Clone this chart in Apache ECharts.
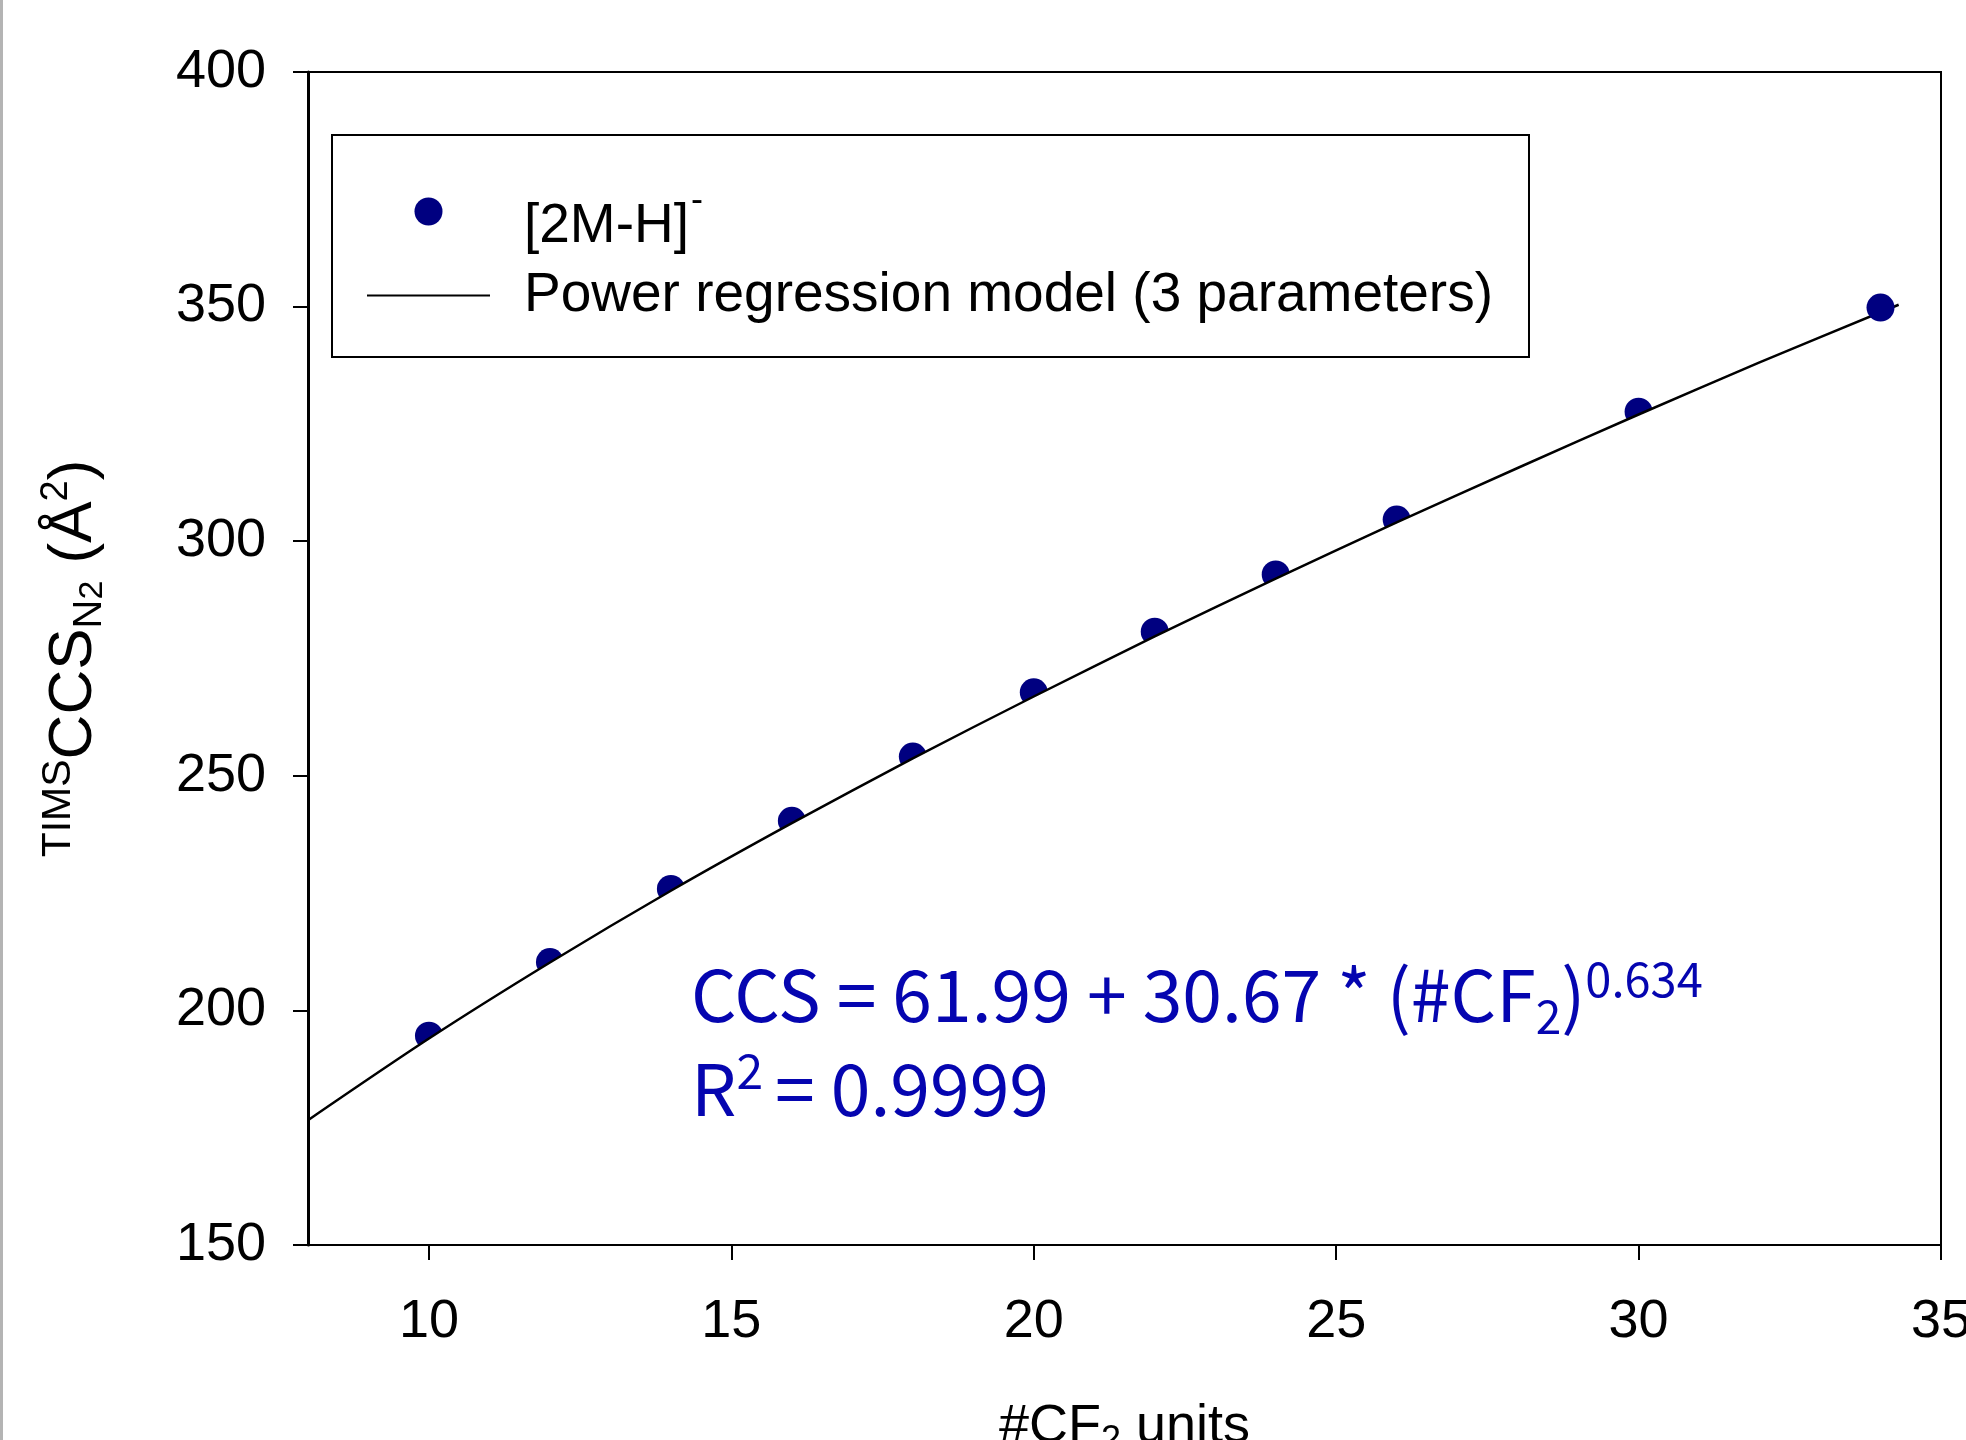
<!DOCTYPE html>
<html>
<head>
<meta charset="utf-8">
<title>TIMS CCS vs CF2 units</title>
<script src="https://cdn.jsdelivr.net/npm/echarts@6/dist/echarts.min.js"></script>
<style>
  html, body { margin: 0; padding: 0; background: #fff; }
  #chart { width: 1966px; height: 1440px; }
</style>
</head>
<body>
<div id="chart"></div>
<script>
  // measured points [2M-H]-
  const cf2Units = [10, 12, 14, 16, 18, 20, 22, 24, 26, 30, 34];
  const ccsValues = [194.6, 210.3, 225.9, 240.4, 254.1, 267.8, 280.7, 292.9, 304.6, 327.6, 349.8];

  // regression curve
  const fitUnits = [8, 10, 12, 14, 16, 18, 20, 22, 24, 26, 28, 30, 32, 34.3];
  const fitValues = [176.6, 194.0, 210.2, 225.5, 239.9, 253.7, 266.9, 279.7, 292.0, 304.0, 315.6, 327.0, 338.1, 350.4];

  const xTicks = [10, 15, 20, 25, 30, 35];

  const ionName = '[2M-H]-';
  const fitName = 'Power regression model (3 parameters)';

  const arial = '"Liberation Sans", Arial, sans-serif';
  const narrow = '"Liberation Sans Narrow", "Arial Narrow", "Liberation Sans", Arial, sans-serif';
  const eqFont = '"Noto Sans CJK SC", "Noto Sans", sans-serif';
  const eqColor = '#0505b0';
  const dotColor = '#000080';

  const pts = cf2Units.map((x, i) => [x, ccsValues[i]]);
  const fit = fitUnits.map((x, i) => [x, fitValues[i]]);

  const chart = echarts.init(document.getElementById('chart'));

  const option = {
    animation: false,
    backgroundColor: '#fff',
    grid: {
      left: 308,
      right: 25,
      top: 72,
      bottom: 195,
      outerBoundsMode: 'none',
      containLabel: false,
      show: true,
      zlevel: 2,
      borderColor: '#000',
      borderWidth: 2,
      backgroundColor: 'transparent'
    },
    legend: {
      orient: 'vertical',
      left: 332,
      top: 135,
      zlevel: 2,
      padding: [34, 36, 34, 35],
      borderColor: '#000',
      borderWidth: 2,
      itemWidth: 123,
      itemHeight: 28,
      itemGap: 14,
      data: [
        { name: ionName, icon: 'circle', itemStyle: { color: dotColor, opacity: 1 } },
        { name: fitName, icon: 'path://M0,0 L123,0 L123,2 L0,2 Z', itemStyle: { color: '#000', opacity: 1 } }
      ],
      formatter: name => name === ionName ? '{t1|[2M-H]}{sup|-}' : '{t|' + name + '}',
      textStyle: {
        padding: [0, 0, 0, 29],
        rich: {
          t: { fontSize: 55, lineHeight: 62, fontFamily: arial, color: '#000' },
          t1: { fontSize: 55, lineHeight: 62, fontFamily: arial, color: '#000', padding: [30, 0, 0, 0] },
          sup: { fontSize: 36, lineHeight: 40, fontFamily: arial, color: '#000', verticalAlign: 'top', padding: [3, 0, 0, 2] }
        }
      }
    },
    xAxis: {
      type: 'value',
      min: 8,
      max: 35,
      zlevel: 2,
      z: 10,
      name: '{a|#CF}{sub|2}{a| units}',
      nameLocation: 'middle',
      nameGap: 150,
      nameTextStyle: {
        rich: {
          a: { fontSize: 54, lineHeight: 64, fontFamily: arial, color: '#000' },
          sub: { fontSize: 36, lineHeight: 40, fontFamily: arial, color: '#000', verticalAlign: 'bottom' }
        }
      },
      axisLine: { onZero: false, lineStyle: { color: '#000', width: 2 } },
      axisTick: { customValues: xTicks, length: 15, lineStyle: { color: '#000', width: 2 } },
      axisLabel: { customValues: xTicks, margin: 50, fontSize: 54, fontFamily: arial, color: '#000' },
      splitLine: { show: false }
    },
    yAxis: {
      type: 'value',
      min: 150,
      max: 400,
      interval: 50,
      zlevel: 2,
      z: 10,
      name: '{sup|TIMS}{c|CCS}{sub|N}{subsub|2}{a| (Å}{sup2|2}{a|)}',
      nameLocation: 'middle',
      nameRotate: 90,
      nameGap: 198,
      nameTextStyle: {
        rich: {
          c: { fontSize: 62, lineHeight: 72, fontFamily: narrow, color: '#000' },
          a: { fontSize: 62, lineHeight: 72, fontFamily: arial, color: '#000' },
          sup: { fontSize: 41, lineHeight: 50, fontFamily: arial, color: '#000', verticalAlign: 'top' },
          sup2: { fontSize: 38, lineHeight: 46, fontFamily: arial, color: '#000', verticalAlign: 'top' },
          sub: { fontSize: 40, lineHeight: 52, fontFamily: arial, color: '#000', verticalAlign: 'bottom' },
          subsub: { fontSize: 34, lineHeight: 34, fontFamily: arial, color: '#000', verticalAlign: 'bottom' }
        }
      },
      axisLine: { lineStyle: { color: '#000', width: 3 } },
      axisTick: { length: 15, lineStyle: { color: '#000', width: 2 } },
      axisLabel: { margin: 42, fontSize: 54, fontFamily: arial, color: '#000' },
      splitLine: { show: false }
    },
    series: [
      {
        name: ionName,
        type: 'scatter',
        zlevel: 0,
        symbol: 'circle',
        symbolSize: 28,
        itemStyle: { color: dotColor, opacity: 1 },
        data: pts.slice(0, -1)
      },
      {
        name: fitName,
        type: 'line',
        zlevel: 1,
        smooth: 0.3,
        symbol: 'none',
        showSymbol: false,
        itemStyle: { color: '#000' },
        lineStyle: { color: '#000', width: 2.5 },
        // white fill under the curve hides the lower half of the dots, as in the source figure
        areaStyle: { color: '#fff', opacity: 1, origin: 'start' },
        data: fit
      },
      {
        name: ionName,
        type: 'scatter',
        zlevel: 1,
        z: 5,
        symbol: 'circle',
        symbolSize: 28,
        itemStyle: { color: dotColor, opacity: 1 },
        data: pts.slice(-1)
      }
    ],
    graphic: [
      {
        type: 'rect',
        left: 0,
        top: 0,
        zlevel: 2,
        shape: { width: 3, height: 1440 },
        style: { fill: '#b4b4b4' }
      },
      {
        type: 'text',
        x: 691,
        y: 950,
        zlevel: 2,
        style: {
          text: '{a|CCS = 61.99 + 30.67 * (#CF}{sub|2}{a|)}{sup|0.634}',
          rich: {
            a: { fontSize: 71.5, lineHeight: 90, fontFamily: eqFont, fill: eqColor },
            sub: { fontSize: 46, lineHeight: 34, fontFamily: eqFont, fill: eqColor, verticalAlign: 'bottom' },
            sup: { fontSize: 47, lineHeight: 60, fontFamily: eqFont, fill: eqColor, verticalAlign: 'top', padding: [6, 0, 0, 0] }
          }
        }
      },
      {
        type: 'text',
        x: 691,
        y: 1044,
        zlevel: 2,
        style: {
          text: '{a|R}{sup|2}{a|= 0.9999}',
          rich: {
            a: { fontSize: 71.5, lineHeight: 90, fontFamily: eqFont, fill: eqColor },
            sup: { fontSize: 48, lineHeight: 60, fontFamily: eqFont, fill: eqColor, verticalAlign: 'top', padding: [3, 12, 0, 0] }
          }
        }
      }
    ]
  };

  chart.setOption(option);
</script>
</body>
</html>
